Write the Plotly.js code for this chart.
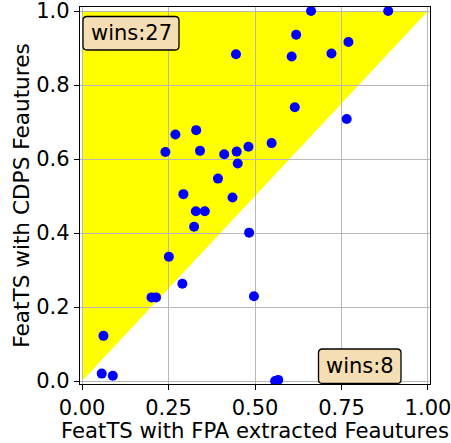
<!DOCTYPE html>
<html>
<head>
<meta charset="utf-8">
<script src="https://cdn.plot.ly/plotly-3.0.1.min.js"></script>
<style>html,body{margin:0;padding:0;background:#fff;}#chart{width:451px;height:443px;}</style>
</head>
<body>
<div id="chart"></div>
<script>
// FeatTS with FPA extracted features (x) vs FeatTS with CDPS features (y)
const fpaScores = [0.445, 0.270, 0.330, 0.241, 0.341, 0.411, 0.447, 0.481, 0.450, 0.393,
                   0.293, 0.435, 0.662, 0.885, 0.619, 0.770, 0.606, 0.721, 0.615, 0.548,
                   0.329, 0.355, 0.324, 0.251, 0.201, 0.214, 0.062,
                   0.483, 0.497, 0.290, 0.765, 0.089, 0.558, 0.567, 0.057];
const cdpsScores = [0.883, 0.666, 0.678, 0.619, 0.622, 0.613, 0.620, 0.633, 0.588, 0.547,
                    0.505, 0.496, 1.000, 1.000, 0.936, 0.916, 0.877, 0.885, 0.740, 0.643,
                    0.459, 0.459, 0.417, 0.336, 0.226, 0.226, 0.122,
                    0.401, 0.229, 0.263, 0.708, 0.014, 0.000, 0.003, 0.020];
const xTickVals = [0, 0.25, 0.5, 0.75, 1.0];
const yTickVals = [0, 0.2, 0.4, 0.6, 0.8, 1.0];
const winsCdps = "wins:27";
const winsFpa = "wins:8";

const FONT = 'DejaVu Sans, sans-serif';
const FS = 21;

function roundedRect(x0, y0, x1, y1, rx, ry) {
  return `M${x0+rx},${y0} L${x1-rx},${y0} Q${x1},${y0} ${x1},${y0+ry} L${x1},${y1-ry} Q${x1},${y1} ${x1-rx},${y1} ` +
         `L${x0+rx},${y1} Q${x0},${y1} ${x0},${y1-ry} L${x0},${y0+ry} Q${x0},${y0} ${x0+rx},${y0} Z`;
}
const W = 350, H = 377;
const rx = 4 / W, ry = 4 / H;

const trace = {
  x: fpaScores, y: cdpsScores, type: 'scatter', mode: 'markers',
  marker: {color: '#0000ff', size: 10, line: {width: 0}},
  hoverinfo: 'x+y'
};

const layout = {
  width: 451, height: 443,
  margin: {l: 80, r: 21, t: 7, b: 59},
  paper_bgcolor: '#ffffff', plot_bgcolor: '#ffffff',
  showlegend: false,
  font: {family: FONT, size: FS, color: '#000'},
  xaxis: {
    range: [-0.0058, 1.0058], tickvals: xTickVals, tickformat: '.2f',
    showgrid: true, gridcolor: '#b8b8b8', gridwidth: 1,
    zeroline: false, showline: true, linecolor: '#000', linewidth: 1.2, mirror: true,
    ticks: 'outside', ticklen: 5, tickwidth: 1, tickcolor: '#000',
    ticklabeloverflow: 'allow',
    tickfont: {family: FONT, size: FS, color: '#000'},
    title: {text: 'FeatTS with FPA extracted Feautures', font: {family: FONT, size: 21.2, color: '#000'}, standoff: 2}
  },
  yaxis: {
    range: [-0.0081, 1.0108], tickvals: yTickVals, tickformat: '.1f',
    showgrid: true, gridcolor: '#b8b8b8', gridwidth: 1,
    zeroline: false, showline: true, linecolor: '#000', linewidth: 1.2, mirror: true,
    ticks: 'outside', ticklen: 5, tickwidth: 1, tickcolor: '#000',
    ticklabeloverflow: 'allow',
    tickfont: {family: FONT, size: FS, color: '#000'},
    title: {text: 'FeatTS with CDPS Feautures', font: {family: FONT, size: 21.6, color: '#000'}, standoff: 0}
  },
  shapes: [
    {type: 'path', xref: 'x', yref: 'y', layer: 'below',
     path: 'M0,0 L0,1 L1,1 Z', fillcolor: '#ffff00', line: {width: 0}},
    {type: 'path', xref: 'paper', yref: 'paper', layer: 'above',
     path: roundedRect(3/W, (H-43)/H, 99/W, (H-9.5)/H, rx, ry),
     fillcolor: '#f5deb3', line: {color: '#000', width: 1.3}},
    {type: 'path', xref: 'paper', yref: 'paper', layer: 'above',
     path: roundedRect(238.5/W, 0.5/H, 321/W, 35/H, rx, ry),
     fillcolor: '#f5deb3', line: {color: '#000', width: 1.3}}
  ],
  annotations: [
    {xref: 'paper', yref: 'paper', x: 51/W, y: (H-26.3)/H, text: winsCdps, showarrow: false,
     xanchor: 'center', yanchor: 'middle', font: {family: FONT, size: FS, color: '#000'}},
    {xref: 'paper', yref: 'paper', x: 279.7/W, y: 17.8/H, text: winsFpa, showarrow: false,
     xanchor: 'center', yanchor: 'middle', font: {family: FONT, size: FS, color: '#000'}}
  ]
};

Plotly.newPlot('chart', [trace], layout, {displayModeBar: false, staticPlot: true});
</script>
</body>
</html>
